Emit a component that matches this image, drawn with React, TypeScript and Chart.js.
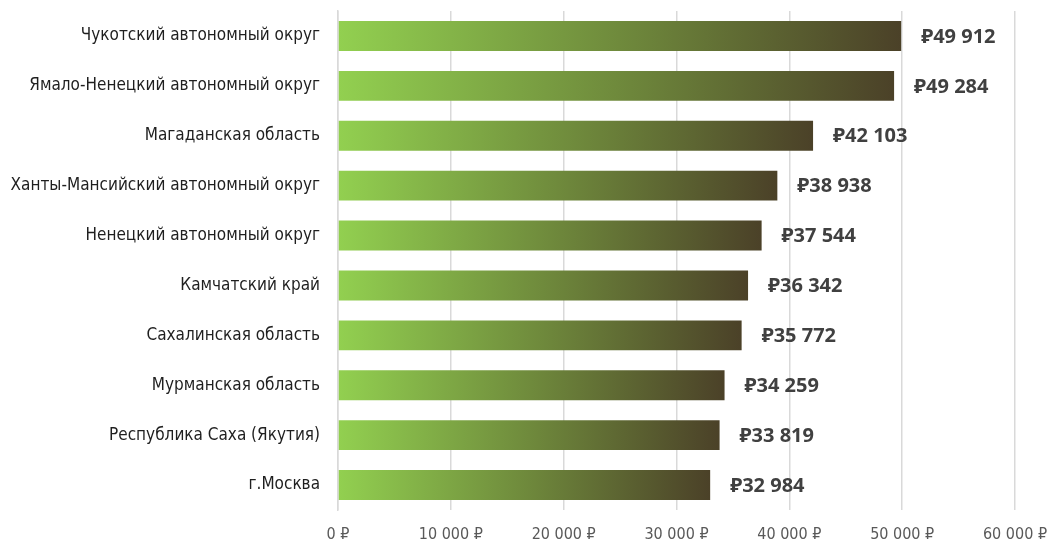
import React, { useEffect, useRef } from "react";
import { Chart, registerables } from "chart.js";

Chart.register(...registerables);

const categories: string[] = [
  "Чукотский автономный округ",
  "Ямало-Ненецкий автономный округ",
  "Магаданская область",
  "Ханты-Мансийский автономный округ",
  "Ненецкий автономный округ",
  "Камчатский край",
  "Сахалинская область",
  "Мурманская область",
  "Республика Саха (Якутия)",
  "г.Москва",
];

const salaries: number[] = [49912, 49284, 42103, 38938, 37544, 36342, 35772, 34259, 33819, 32984];

const xTicks: number[] = [0, 10000, 20000, 30000, 40000, 50000, 60000];

const NARROW = "'Liberation Sans Narrow', 'Arial Narrow', 'DejaVu Sans Condensed', sans-serif";

const fmt = (v: number) => {
  const s = Math.round(v).toString();
  return s.replace(/\B(?=(\d{3})+(?!\d))/g, " ");
};

const valueLabels = {
  id: "valueLabels",
  afterDatasetsDraw(chart: any) {
    const ctx = chart.ctx;
    const meta = chart.getDatasetMeta(0);
    ctx.save();
    ctx.font = "bold 20px 'Open Sans', 'Noto Sans', sans-serif";
    ctx.fillStyle = "#404040";
    ctx.textAlign = "left";
    ctx.textBaseline = "middle";
    meta.data.forEach((bar: any, i: number) => {
      ctx.fillText("₽" + fmt(salaries[i]), bar.x + 20, bar.y + 1);
    });
    ctx.restore();
  },
};

export default function App() {
  const ref = useRef<HTMLCanvasElement | null>(null);
  useEffect(() => {
    if (!ref.current) return;
    const chart = new Chart(ref.current, {
      type: "bar",
      data: {
        labels: categories,
        datasets: [
          {
            data: salaries,
            backgroundColor: (c: any) => {
              const chart = c.chart;
              const xs = chart.scales?.x;
              if (!xs || !chart.chartArea || typeof c.raw !== "number") return "#92d050";
              const x0 = xs.getPixelForValue(0);
              const x1 = xs.getPixelForValue(c.raw);
              if (!isFinite(x0) || !isFinite(x1) || x1 <= x0) return "#92d050";
              const g = chart.ctx.createLinearGradient(x0, 0, x1, 0);
              g.addColorStop(0, "#92d050");
              g.addColorStop(0.5, "#6f8a3c");
              g.addColorStop(1, "#4b4128");
              return g;
            },
            borderWidth: 0,
            barPercentage: 0.6,
            categoryPercentage: 1,
          },
        ],
      },
      options: {
        indexAxis: "y",
        animation: false,
        responsive: false,
        maintainAspectRatio: false,
        layout: { padding: { top: 11, right: 39, left: 0, bottom: 0 } },
        plugins: { legend: { display: false }, tooltip: { enabled: false } },
        scales: {
          x: {
            min: 0,
            max: 60000,
            afterBuildTicks: (axis: any) => {
              axis.ticks = xTicks.map((v) => ({ value: v }));
            },
            afterFit: (axis: any) => {
              axis.height = 36;
              axis.paddingLeft = 0;
              axis.paddingRight = 0;
            },
            grid: { color: "#d9d9d9", lineWidth: 1.5, drawTicks: false },
            border: { display: false },
            ticks: {
              padding: 15,
              color: "#595959",
              font: { family: NARROW, size: 16 },
              callback: (v: any) => fmt(Number(v)) + " ₽",
            },
          },
          y: {
            afterFit: (axis: any) => {
              axis.width = 338;
              axis.paddingTop = 0;
              axis.paddingBottom = 0;
            },
            grid: { display: false, drawTicks: false },
            border: { display: true, color: "#d9d9d9", width: 1.5 },
            ticks: {
              padding: 18,
              color: "#1f1f1f",
              font: { family: NARROW, size: 17 },
            },
          },
        },
      },
      plugins: [valueLabels],
    } as any);
    return () => chart.destroy();
  }, []);
  return (
    <div style={{ position: "fixed", left: 0, top: 0, width: 1054, height: 546, background: "#fff" }}>
      <canvas ref={ref} width={1054} height={546} style={{ width: 1054, height: 546, display: "block" }} />
    </div>
  );
}
